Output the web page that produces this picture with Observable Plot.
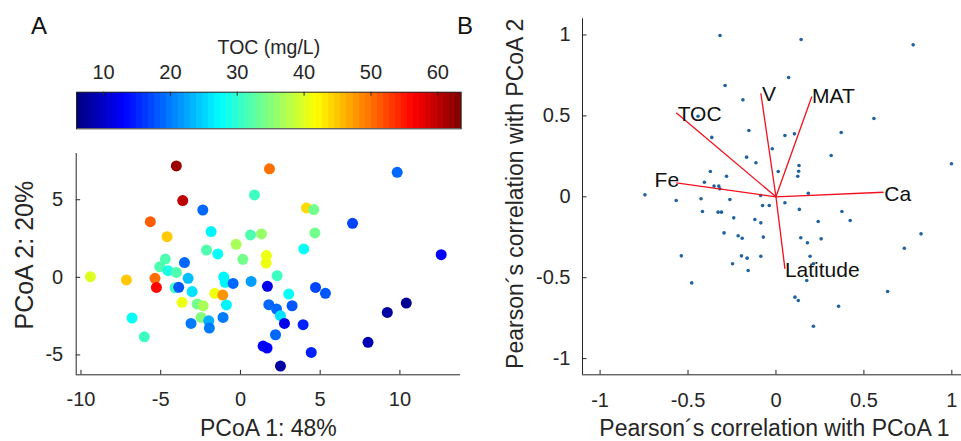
<!DOCTYPE html>
<html><head><meta charset="utf-8">
<script src="https://cdn.jsdelivr.net/npm/d3@7"></script>
<script src="https://cdn.jsdelivr.net/npm/@observablehq/plot@0.6"></script>
<style>
body{margin:0;background:#fff;}
#fig{position:relative;width:961px;height:441px;overflow:hidden;background:#fff;font-family:"Liberation Sans",Arial,Helvetica,sans-serif;}
#fig > svg{position:absolute;left:0;top:0;}
</style></head><body><div id="fig"></div>
<script>
// ---------- Panel A data (PCoA scores, TOC) ----------
const pcoa1 = [-4.02,-3.62,1.82,0.88,-2.36,-5.65,-4.60,-1.84,0.63,1.32,-0.27,-2.13,-1.42,0.15,1.63,1.61,-4.71,-5.06,-3.51,-4.54,-4.02,-9.41,-7.15,-5.36,-5.27,-3.28,-4.10,-3.87,-3.03,-1.05,-0.96,-0.46,0.67,1.69,2.30,-1.61,-1.11,-3.66,-2.72,-2.34,-0.88,-2.47,-3.10,-1.99,-1.95,-1.09,-6.80,-6.03,1.78,2.26,2.20,1.42,1.67,2.51,9.83,4.14,4.60,7.03,4.67,3.97,12.59,3.03,4.71,5.33,3.24,2.51,2.76,3.93,4.44,9.21,10.40,8.00];
const pcoa2 = [7.18,4.95,6.99,5.31,4.34,3.59,2.62,2.95,2.73,2.80,2.13,1.76,1.51,1.16,1.40,0.92,1.18,0.69,0.95,0.43,0.32,0.04,-0.17,-0.06,-0.65,-0.06,-0.67,-0.64,-0.92,0.02,-0.32,-0.39,-0.26,-0.58,0.11,-1.03,-1.14,-1.61,-1.72,-1.83,-1.78,-2.58,-2.97,-2.80,-3.27,-2.58,-2.62,-3.83,-1.76,-2.04,-3.70,-4.43,-4.56,-5.72,6.77,4.47,4.37,3.48,2.86,1.83,1.46,-1.08,-0.65,-1.03,-1.83,-2.47,-2.97,-3.05,-4.84,-2.26,-1.66,-4.19];
const toc = [62,60,50,31,19,51,45,27,32,36,37,32,28,34,41,41,32,32,19,29,32,40,45,50,56,24,31,18,26,27,27,19,22,12,31,41,48,41,34,37,27,35,20,23,20,20,28,31,19,19,19,13,13,8,19,44,34,17,34,28,13,28,17,18,18,26,12,15,15,8,7,9];
const tocTicks = [10,20,30,40,50,60];
const pcoaXTicks = [-10,-5,0,5,10];
const pcoaYTicks = [-5,0,5];

// ---------- Panel B data (correlations with PCoA axes) ----------
const corr1 = [-0.318,-0.289,-0.188,-0.443,-0.154,-0.365,-0.167,-0.373,-0.281,-0.407,-0.352,-0.325,-0.319,-0.745,-0.567,-0.426,-0.262,-0.418,-0.329,-0.310,-0.240,-0.295,-0.215,-0.192,-0.538,-0.247,-0.196,-0.164,-0.158,-0.479,0.143,0.780,0.072,0.557,0.051,0.105,0.371,-0.021,-0.114,0.314,0.131,0.129,0.124,0.013,0.998,0.184,-0.087,-0.076,-0.038,0.051,0.133,0.375,0.422,-0.120,-0.086,0.240,-0.072,0.141,0.179,0.257,0.825,0.730,-0.086,0.194,0.213,0.175,0.108,0.127,0.356,0.635,0.213];
const corr2 = [0.997,0.688,0.599,0.498,0.410,0.367,0.245,0.156,0.127,0.090,0.066,0.066,0.049,0.012,-0.023,-0.012,-0.017,-0.091,-0.095,-0.095,-0.130,-0.223,-0.241,-0.256,-0.365,-0.414,-0.365,-0.379,-0.455,-0.532,0.972,0.939,0.737,0.484,0.379,0.389,0.397,0.297,0.210,0.255,0.193,0.158,0.127,0.156,0.204,0.022,0.008,-0.054,-0.054,-0.037,-0.078,-0.091,-0.146,-0.140,-0.161,-0.153,-0.249,-0.253,-0.284,-0.260,-0.229,-0.318,-0.367,-0.367,-0.414,-0.517,-0.620,-0.641,-0.676,-0.585,-0.800];
const vecNames = ["TOC","Fe","V","MAT","Ca","Latitude"];
const vecX = [-0.567,-0.567,-0.086,0.204,0.612,0.051];
const vecY = [0.519,0.086,0.640,0.620,0.028,-0.445];
const vecLabelX = [-0.559,-0.690,-0.080,0.205,0.616,0.051];
const vecLabelY = [0.513,0.100,0.632,0.619,0.018,-0.455];
const corrTicks = [-1,-0.5,0,0.5,1];

// ---------- shared styling ----------
const FONT = '"Liberation Sans", Arial, Helvetica, sans-serif';
const AX = "#262626";
const jetScale = d3.scaleLinear([0,0.125,0.375,0.625,0.875,1],
  ["#00007f","#0000ff","#00ffff","#ffff00","#ff0000","#7f0000"]).clamp(true);
const jet = t => jetScale(t);
const tocDomain = [5.95, 63.5];
const colorOpts = {type: "linear", domain: tocDomain, interpolate: jet};

const W = 961, H = 441;
const fig = document.getElementById("fig");
const baseStyle = {fontFamily: FONT, fontSize: "20px", color: AX, background: "transparent", overflow: "visible"};
const mid = {textAnchor: "middle", lineAnchor: "middle"};

// ---------- Colorbar ----------
const cbTop = 91.7, cbBottom = 128.3, cbLeft = 76, cbRight = 460.7;
const nBands = 64;
const bands = d3.range(nBands).map(i => ({
  x1: tocDomain[0] + i * (tocDomain[1] - tocDomain[0]) / nBands,
  x2: tocDomain[0] + (i + 1) * (tocDomain[1] - tocDomain[0]) / nBands,
  v: tocDomain[0] + (i + 0.5) * (tocDomain[1] - tocDomain[0]) / nBands
}));
const colorbar = Plot.plot({
  width: W, height: H,
  marginLeft: cbLeft, marginRight: W - cbRight, marginTop: cbTop, marginBottom: H - cbBottom,
  x: {domain: tocDomain, axis: null},
  y: {axis: null},
  color: colorOpts,
  style: baseStyle,
  marks: [
    Plot.rect(bands, {x1: "x1", x2: "x2", fill: "v", shapeRendering: "crispEdges"}),
    Plot.frame({stroke: AX, strokeWidth: 1}),
    Plot.tickX(tocTicks, {x: d => d, insetBottom: (cbBottom - cbTop) - 4, stroke: AX}),
    Plot.text(tocTicks, {x: d => d, text: d => String(d), frameAnchor: "top", dy: -19.5, fontSize: 20, fill: AX, ...mid}),
    Plot.text(["TOC (mg/L)"], {frameAnchor: "top", dx: 0, dy: -44, fontSize: 19.5, fill: AX, ...mid})
  ]
});
fig.appendChild(colorbar);

// ---------- Panel A ----------
const aLeft = 75.7, aRight = 460, aTop = 153, aBottom = 374.3;
const aX = [-10.3, 13.8], aY = [-6.28, 7.98];
const scoresA = pcoa1.map((x, i) => ({x, y: pcoa2[i], toc: toc[i]}));
const panelA = Plot.plot({
  width: W, height: H,
  marginLeft: aLeft, marginRight: W - aRight, marginTop: aTop, marginBottom: H - aBottom,
  x: {domain: aX, axis: null},
  y: {domain: aY, axis: null},
  color: colorOpts,
  style: baseStyle,
  marks: [
    Plot.dot(scoresA, {x: "x", y: "y", fill: "toc", r: 5.5, stroke: null}),
    Plot.ruleX([aX[0]], {stroke: AX}),
    Plot.ruleY([aY[0]], {stroke: AX}),
    Plot.tickX(pcoaXTicks, {x: d => d, insetTop: (aBottom - aTop) - 4.5, stroke: AX}),
    Plot.tickY(pcoaYTicks, {y: d => d, insetRight: (aRight - aLeft) - 4.5, stroke: AX}),
    Plot.text(pcoaXTicks, {x: d => d, text: d => String(d), frameAnchor: "bottom", dy: 25, fill: AX, ...mid}),
    Plot.text(pcoaYTicks, {y: d => d, text: d => String(d), frameAnchor: "left", dx: -13, textAnchor: "end", lineAnchor: "middle", fill: AX}),
    Plot.text(["PCoA 1: 48%"], {frameAnchor: "bottom", dy: 54, fontSize: 23, fill: AX, ...mid}),
    Plot.text(["PCoA 2: 20%"], {frameAnchor: "left", dx: -51, dy: -9, rotate: -90, fontSize: 25, fill: AX, ...mid})
  ]
});
fig.appendChild(panelA);

// ---------- Panel B ----------
const bLeft = 582, bRight = 961, bTop = 18.3, bBottom = 374.3;
const bX = [-1.1, 1.055], bY = [-1.1, 1.1];
const corrPts = corr1.map((x, i) => ({x, y: corr2[i]}));
const vectors = vecNames.map((name, i) => ({name, x: vecX[i], y: vecY[i], lx: vecLabelX[i], ly: vecLabelY[i]}));
const panelB = Plot.plot({
  width: W, height: H,
  marginLeft: bLeft, marginRight: W - bRight, marginTop: bTop, marginBottom: H - bBottom,
  x: {domain: bX, axis: null},
  y: {domain: bY, axis: null},
  style: baseStyle,
  marks: [
    Plot.dot(corrPts, {x: "x", y: "y", r: 1.8, fill: "#1f62a0", stroke: null}),
    Plot.link(vectors, {x1: 0, y1: 0, x2: "x", y2: "y", stroke: "#f2101e", strokeWidth: 1.3}),
    Plot.text(vectors, {x: "lx", y: "ly", text: "name", textAnchor: "start", lineAnchor: "middle", fontSize: 21, fill: "#111"}),
    Plot.ruleX([bX[0]], {stroke: AX}),
    Plot.ruleY([bY[0]], {stroke: AX}),
    Plot.tickX(corrTicks, {x: d => d, insetTop: (bBottom - bTop) - 4.5, stroke: AX}),
    Plot.tickY(corrTicks, {y: d => d, insetRight: (bRight - bLeft) - 4.5, stroke: AX}),
    Plot.text(corrTicks, {x: d => d, text: d => String(d), frameAnchor: "bottom", dy: 26, fill: AX, ...mid}),
    Plot.text(corrTicks, {y: d => d, text: d => String(d), frameAnchor: "left", dx: -12, textAnchor: "end", lineAnchor: "middle", fill: AX}),
    Plot.text(["Pearson\u00b4s correlation with PCoA 1"], {frameAnchor: "bottom", dx: 2.5, dy: 54, fontSize: 23, fill: AX, ...mid}),
    Plot.text(["Pearson\u00b4s correlation with PCoA 2"], {frameAnchor: "left", dx: -67, dy: -3, rotate: -90, fontSize: 23, fill: AX, ...mid})
  ]
});
fig.appendChild(panelB);

// ---------- Panel letters ----------
const overlay = d3.select(fig).append("svg")
  .attr("width", W).attr("height", H)
  .style("position", "absolute").style("left", 0).style("top", 0);
overlay.append("text").attr("x", 31).attr("y", 34)
  .style("font-family", FONT).style("font-size", "24px").attr("fill", "#111").text("A");
overlay.append("text").attr("x", 457).attr("y", 34)
  .style("font-family", FONT).style("font-size", "24px").attr("fill", "#111").text("B");
</script></body></html>
